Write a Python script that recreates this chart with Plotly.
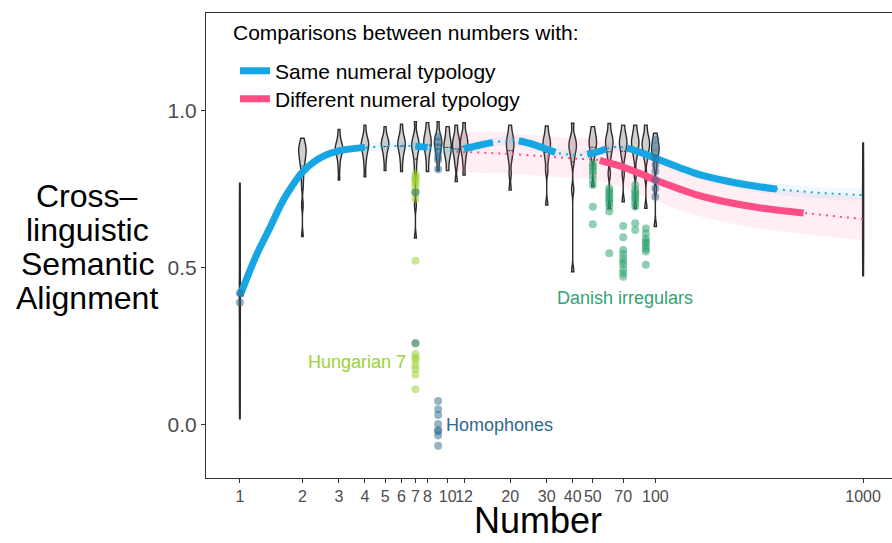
import numpy as np
import plotly.graph_objects as go

# ---------------- data ----------------
tick_numbers = [1, 2, 3, 4, 5, 6, 7, 8, 10, 12, 20, 30, 40, 50, 70, 100, 1000]
tick_labels = [str(n) for n in tick_numbers]
y_ticks = [0.0, 0.5, 1.0]
y_tick_labels = ["0.0", "0.5", "1.0"]

violin_numbers = [1, 2, 3, 4, 5, 6, 7, 8, 9, 10, 11, 12, 20, 30, 40, 50, 60, 70, 80, 90, 100, 1000]
violin_samples = [
    [0.02, 0.07, 0.12, 0.17, 0.22, 0.27, 0.32, 0.37, 0.40, 0.42, 0.47, 0.52, 0.57, 0.62, 0.67, 0.72, 0.77],
    [0.60, 0.70, 0.76, 0.79, 0.81, 0.83, 0.84, 0.85, 0.86, 0.87, 0.875, 0.88, 0.89, 0.90, 0.913],
    [0.78, 0.82, 0.845, 0.86, 0.87, 0.875, 0.88, 0.885, 0.89, 0.90, 0.915, 0.941],
    [0.79, 0.83, 0.855, 0.87, 0.88, 0.89, 0.895, 0.90, 0.91, 0.925, 0.955],
    [0.81, 0.845, 0.865, 0.88, 0.89, 0.895, 0.90, 0.91, 0.92, 0.95],
    [0.807, 0.84, 0.86, 0.875, 0.885, 0.89, 0.90, 0.905, 0.915, 0.93, 0.958],
    [0.595, 0.70, 0.81, 0.84, 0.86, 0.875, 0.885, 0.89, 0.90, 0.91, 0.925, 0.966],
    [0.807, 0.84, 0.865, 0.88, 0.89, 0.90, 0.91, 0.92, 0.935, 0.963],
    [0.81, 0.845, 0.865, 0.88, 0.89, 0.90, 0.905, 0.915, 0.93, 0.966],
    [0.81, 0.84, 0.86, 0.87, 0.88, 0.89, 0.90, 0.91, 0.93, 0.95],
    [0.775, 0.83, 0.855, 0.87, 0.88, 0.89, 0.90, 0.91, 0.925, 0.955],
    [0.796, 0.835, 0.86, 0.875, 0.885, 0.895, 0.905, 0.915, 0.93, 0.963],
    [0.748, 0.80, 0.84, 0.86, 0.875, 0.885, 0.895, 0.905, 0.915, 0.93, 0.955],
    [0.70, 0.81, 0.845, 0.865, 0.88, 0.89, 0.90, 0.91, 0.925, 0.952],
    [0.488, 0.75, 0.835, 0.86, 0.875, 0.885, 0.895, 0.905, 0.92, 0.961],
    [0.759, 0.85, 0.87, 0.885, 0.895, 0.905, 0.915, 0.93, 0.95],
    [0.69, 0.80, 0.85, 0.87, 0.885, 0.895, 0.905, 0.915, 0.93, 0.96],
    [0.711, 0.80, 0.85, 0.87, 0.885, 0.895, 0.905, 0.915, 0.93, 0.955],
    [0.69, 0.80, 0.85, 0.87, 0.885, 0.895, 0.905, 0.915, 0.93, 0.955],
    [0.69, 0.79, 0.845, 0.865, 0.88, 0.89, 0.90, 0.91, 0.925, 0.955],
    [0.632, 0.75, 0.82, 0.85, 0.865, 0.875, 0.885, 0.895, 0.91, 0.929],
    [0.475, 0.50, 0.53, 0.56, 0.59, 0.62, 0.65, 0.68, 0.71, 0.74, 0.77, 0.80, 0.83, 0.86, 0.898],
]
violin_thin = [1, 1000]

# smoothed fit: same numeral typology
same_x = [1, 1.2, 1.4, 1.6, 1.8, 2, 2.3, 2.6, 3, 3.5, 4, 5, 6, 7, 8, 9, 10, 11, 12, 14, 16.5,
          20, 22, 26, 30, 33, 40, 47, 52, 58, 65, 73, 85, 100, 130, 160, 220, 300, 385, 500, 700, 1000]
same_y = [0.41, 0.54, 0.63, 0.71, 0.765, 0.805, 0.84, 0.86, 0.873, 0.88, 0.884, 0.887, 0.889, 0.888,
          0.884, 0.879, 0.876, 0.876, 0.879, 0.89, 0.90, 0.906, 0.905, 0.893, 0.878, 0.868, 0.86, 0.862,
          0.869, 0.879, 0.885, 0.882, 0.868, 0.849, 0.820, 0.799, 0.777, 0.761, 0.751, 0.744, 0.737, 0.732]
same_solid = [(1, 4), (7, 8), (12, 16.5), (22, 33), (47, 58), (73, 385)]
same_band_x = [4, 7, 10, 12, 20, 30, 40, 50, 65, 100, 160, 220, 385, 700, 1000]
same_band_lo = [0.870, 0.874, 0.862, 0.865, 0.892, 0.864, 0.846, 0.850, 0.870, 0.834, 0.783, 0.760, 0.733, 0.718, 0.713]
same_band_hi = [0.898, 0.902, 0.890, 0.893, 0.920, 0.892, 0.874, 0.878, 0.900, 0.864, 0.815, 0.794, 0.769, 0.756, 0.752]

# smoothed fit: different numeral typology
diff_x = [11, 12, 16, 20, 26, 30, 40, 47, 54, 65, 73, 85, 100, 130, 160, 220, 300, 400, 517, 700, 1000]
diff_y = [0.870, 0.869, 0.866, 0.863, 0.858, 0.855, 0.849, 0.846, 0.843, 0.828, 0.817, 0.80, 0.780,
          0.752, 0.732, 0.710, 0.694, 0.683, 0.675, 0.666, 0.656]
diff_solid = [(54, 517)]
diff_band_x = [11, 20, 35, 54, 100, 160, 300, 517, 1000]
diff_band_lo = [0.805, 0.800, 0.788, 0.778, 0.714, 0.666, 0.628, 0.608, 0.589]
diff_band_hi = [0.935, 0.930, 0.916, 0.908, 0.846, 0.798, 0.760, 0.742, 0.727]

# highlighted comparisons
homophone_x = [1, 1, 7, 7] + [9] * 15 + [100] * 9
homophone_y = [0.42, 0.39, 0.74, 0.26,
               0.918, 0.902, 0.886, 0.870, 0.855, 0.844, 0.814,
               0.076, 0.05, 0.032, 0.003, -0.016, -0.02, -0.034, -0.066,
               0.908, 0.886, 0.865, 0.849, 0.828, 0.807, 0.78, 0.754, 0.727]
hungarian_x = [7] * 18
hungarian_y = [0.80, 0.79, 0.785, 0.78, 0.77, 0.76, 0.745, 0.74, 0.72, 0.523,
               0.26, 0.226, 0.215, 0.207, 0.19, 0.178, 0.16, 0.114]
danish_x = [50] * 9 + [60] * 10 + [70] * 10 + [80] * 10 + [90] * 9
danish_y = [0.833, 0.825, 0.817, 0.807, 0.796, 0.780, 0.764, 0.695, 0.639,
            0.754, 0.745, 0.738, 0.73, 0.722, 0.714, 0.706, 0.695, 0.680, 0.547,
            0.634, 0.598, 0.557, 0.545, 0.531, 0.52, 0.510, 0.494, 0.483, 0.472,
            0.764, 0.748, 0.74, 0.732, 0.725, 0.717, 0.706, 0.695, 0.642, 0.621,
            0.626, 0.610, 0.594, 0.585, 0.579, 0.568, 0.560, 0.552, 0.510]

y_title_lines = ["Cross–", "linguistic", "Semantic", "Alignment"]

# ---------------- styles ----------------
FONT = "Liberation Sans, Arial, Helvetica, sans-serif"
BLUE = "#17a6e4"
PINK = "#ff4d86"
HOMO = "rgb(44,104,140)"
HUNG = "rgb(154,208,40)"
DAN = "rgb(36,160,104)"

lx = np.log10

fig = go.Figure()

# ribbons
fig.add_trace(go.Scatter(x=lx(diff_band_x), y=diff_band_lo, mode="lines", line=dict(width=0, shape="spline"),
                         showlegend=False, hoverinfo="skip"))
fig.add_trace(go.Scatter(x=lx(diff_band_x), y=diff_band_hi, mode="lines", line=dict(width=0, shape="spline"),
                         fill="tonexty", fillcolor="rgba(255,77,134,0.09)", showlegend=False, hoverinfo="skip"))
fig.add_trace(go.Scatter(x=lx(same_band_x), y=same_band_lo, mode="lines", line=dict(width=0, shape="spline"),
                         showlegend=False, hoverinfo="skip"))
fig.add_trace(go.Scatter(x=lx(same_band_x), y=same_band_hi, mode="lines", line=dict(width=0, shape="spline"),
                         fill="tonexty", fillcolor="rgba(23,166,228,0.07)", showlegend=False, hoverinfo="skip"))

# violins
for n, s in zip(violin_numbers, violin_samples):
    thin = n in violin_thin
    fig.add_trace(go.Violin(
        y=s, x0=float(np.log10(n)), width=0.004 if thin else 0.036,
        bandwidth=0.06 if thin else 0.015, spanmode="hard",
        scalemode="width", points=False, fillcolor="rgba(200,200,200,0.85)",
        line=dict(color="#2b2b2b", width=1.6 if thin else 1.4),
        meanline=dict(visible=not thin, color="#2b2b2b", width=1),
        showlegend=False, hoverinfo="skip"))

# fitted curves: dotted full curve + thick solid sections
DOT = "2px,5px"
for xs, ys, col, solids, name, leg in [
        (same_x, same_y, BLUE, same_solid, "Same numeral typology", "legend"),
        (diff_x, diff_y, PINK, diff_solid, "Different numeral typology", "legend2")]:
    xa = np.array(xs, dtype=float)
    ya = np.array(ys, dtype=float)
    fig.add_trace(go.Scatter(x=np.log10(xa), y=ya, mode="lines",
                             line=dict(color=col, width=2, dash=DOT, shape="spline"),
                             showlegend=False, hoverinfo="skip"))
    for i, (a, b) in enumerate(solids):
        m = (xa >= a) & (xa <= b)
        fig.add_trace(go.Scatter(x=np.log10(xa[m]), y=ya[m], mode="lines",
                                 line=dict(color=col, width=7, shape="spline"),
                                 name=name, showlegend=(i == 0), legend=leg, hoverinfo="skip"))

# highlighted points
for xs, ys, col in [(hungarian_x, hungarian_y, HUNG), (danish_x, danish_y, DAN), (homophone_x, homophone_y, HOMO)]:
    fig.add_trace(go.Scatter(x=np.log10(xs), y=ys, mode="markers",
                             marker=dict(color=col, size=8, opacity=0.5, line=dict(width=0)),
                             showlegend=False, hoverinfo="skip"))

# ---------------- layout ----------------
W, H = 892, 543
ML, MR, MT, MB = 206, 0, 13, 65
PW, PH = W - ML - MR, H - MT - MB


def px_x(p):
    return (p - ML) / PW


def px_y(p):
    return (H - MB - p) / PH


annotations = []
# group labels
annotations.append(dict(x=np.log10(71.4), y=0.404, xref="x", yref="y", text="Danish irregulars",
                        showarrow=False, font=dict(family=FONT, size=18, color="rgb(48,163,115)")))
annotations.append(dict(x=np.log10(6.44), y=0.20, xref="x", yref="y", text="Hungarian 7", xanchor="right",
                        showarrow=False, font=dict(family=FONT, size=18, color="rgb(155,210,50)")))
annotations.append(dict(x=np.log10(9.6), y=0.0, xref="x", yref="y", text="Homophones", xanchor="left",
                        showarrow=False, font=dict(family=FONT, size=18, color="rgb(45,105,140)")))
# axis titles
for txt, yp in zip(y_title_lines, [196, 230, 264, 298]):
    annotations.append(dict(x=px_x(87), y=px_y(yp), xref="paper", yref="paper", text=txt, showarrow=False,
                            xanchor="center", yanchor="middle",
                            font=dict(family=FONT, size=32, color="black")))
annotations.append(dict(x=px_x(538), y=px_y(543), xref="paper", yref="paper", text="Number", showarrow=False,
                        xanchor="center", yanchor="bottom",
                        font=dict(family=FONT, size=36, color="black")))
# legend title
annotations.append(dict(x=px_x(231), y=px_y(33), xref="paper", yref="paper",
                        text="Comparisons between numbers with:", showarrow=False,
                        xanchor="left", yanchor="middle", font=dict(family=FONT, size=21, color="black")))

fig.update_layout(
    width=W, height=H,
    margin=dict(l=ML, r=MR, t=MT, b=MB, autoexpand=False),
    plot_bgcolor="white", paper_bgcolor="white",
    violinmode="overlay",
    font=dict(family=FONT),
    xaxis=dict(range=[-0.163, 3.139], tickvals=list(np.log10(tick_numbers)), ticktext=tick_labels,
               tickangle=0, automargin=False,
               ticks="outside", ticklen=4, tickcolor="#333333", showline=True, linecolor="#333333",
               linewidth=1, mirror=True, showgrid=False, zeroline=False,
               tickfont=dict(family=FONT, size=16, color="#4d4d4d")),
    yaxis=dict(range=[-0.169, 1.312], tickvals=y_ticks, ticktext=y_tick_labels, automargin=False,
               ticks="outside", ticklen=4, tickcolor="#333333", showline=True, linecolor="#333333",
               linewidth=1, showgrid=False, zeroline=False,
               tickfont=dict(family=FONT, size=21, color="#4d4d4d")),
    legend=dict(x=px_x(235), y=px_y(71), xanchor="left", yanchor="middle", bgcolor="rgba(0,0,0,0)",
                font=dict(family=FONT, size=21, color="black")),
    legend2=dict(x=px_x(235), y=px_y(99), xanchor="left", yanchor="middle", bgcolor="rgba(0,0,0,0)",
                 font=dict(family=FONT, size=21, color="black")),
    annotations=annotations,
)

fig.write_html("out.html", config={"displayModeBar": False},
               post_script="document.body.style.margin='0';")
